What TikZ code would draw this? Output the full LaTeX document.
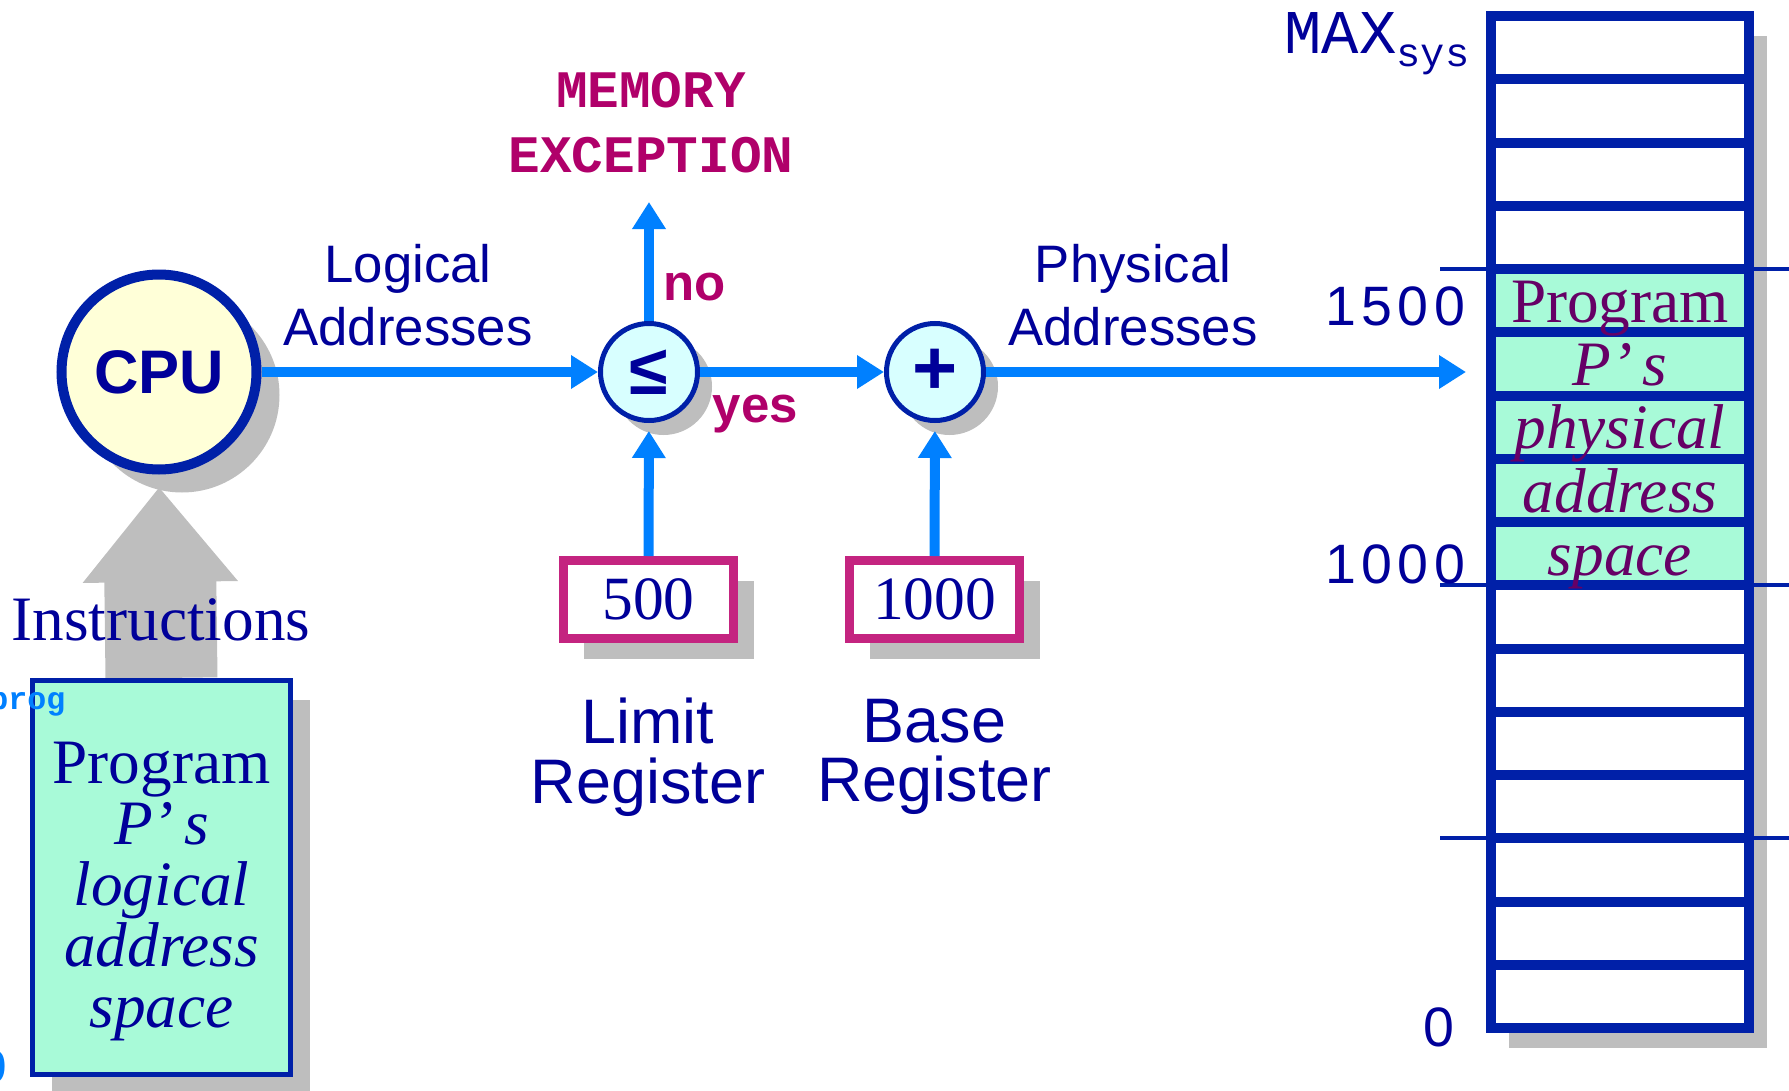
\documentclass[tikz,border=0pt]{standalone}
\usepackage{fontspec}
\setmainfont{Liberation Serif}
\setsansfont{Liberation Sans}
\setmonofont{Liberation Mono}
\usetikzlibrary{arrows.meta, positioning, shadows, backgrounds}

\definecolor{txtblue}{HTML}{000099}
\definecolor{lineblue}{HTML}{0020A8}
\definecolor{flowblue}{HTML}{0080FF}
\definecolor{alertred}{HTML}{B0006A}
\definecolor{regred}{HTML}{C42480}
\definecolor{mint}{HTML}{A8FAD8}
\definecolor{cpuyellow}{HTML}{FFFFD8}
\definecolor{opcyan}{HTML}{D8FFFF}
\definecolor{shadowgray}{HTML}{BEBEBE}
\definecolor{progpurple}{HTML}{660066}

\tikzset{
  flow/.style={flowblue, line width=0.1cm, -{Triangle[length=0.27cm,width=0.32cm]}},
  shadowed/.style={drop shadow={shadow xshift=#1, shadow yshift=-#1, fill=shadowgray, opacity=1}},
  opnode/.style={circle, draw=lineblue, line width=0.05cm, fill=opcyan, minimum size=0.97cm,
    inner sep=0pt, text=txtblue, shadowed=0.145cm},
  regbox/.style={draw=regred, line width=0.09cm, fill=white, minimum width=1.70cm,
    minimum height=0.78cm, inner sep=0pt, text=txtblue, font=\fontsize{17.5}{17.5}\selectfont,
    shadowed=0.2cm},
  lbl/.style={text=txtblue, font=\sffamily\fontsize{15}{17.9}\selectfont, align=center},
  reglbl/.style={text=txtblue, font=\sffamily\fontsize{17.9}{17}\selectfont, align=center},
  verdict/.style={text=alertred, font=\sffamily\bfseries\fontsize{14.5}{14.5}\selectfont, inner sep=0pt},
  addr/.style={text=txtblue, font=\sffamily\fontsize{15.8}{15.8}\selectfont\addfontfeature{LetterSpace=10},
    inner sep=0pt, anchor=east},
  word/.style={font=\fontsize{18}{18}\selectfont, inner sep=0pt, anchor=base},
}

\begin{document}
\begin{tikzpicture}
  \useasboundingbox (0,0) rectangle (17.89,10.90);

  % CPU und Pruefung
  \node[circle, draw=lineblue, line width=0.1cm, fill=cpuyellow, minimum size=1.95cm, inner sep=0pt,
    text=txtblue, font=\sffamily\bfseries\fontsize{17.5}{17.5}\selectfont, shadowed=0.23cm] (cpu) at (1.59,7.18) {CPU};
  \node[opnode, font=\sffamily\bfseries\fontsize{20}{20}\selectfont] (leq) at (6.49,7.18) {≤};
  \node[opnode, font=\sffamily\bfseries\fontsize{22}{22}\selectfont] (plus) at (9.35,7.18) {+};

  \node[regbox] (limit) at (6.485,4.905) {500};
  \node[regbox] (base) at (9.345,4.905) {1000};
  \node[reglbl] (limitlbl) at (6.48,3.33) {Limit\\Register};
  \node[reglbl] (baselbl) at (9.345,3.33) {Base\\Register};

  \node[lbl] (logical) at (4.08,7.95) {Logical\\Addresses};
  \node[lbl] (physical) at (11.33,7.95) {Physical\\Addresses};
  \node[verdict, anchor=base west] (no) at (6.63,7.90) {no};
  \node[verdict, anchor=base west] (yes) at (7.12,6.68) {yes};
  \node[text=alertred, font=\ttfamily\bfseries\fontsize{15}{18.5}\selectfont, align=center] (exc) at (6.51,9.675) {MEMORY\\EXCEPTION};
  \coordinate (exctip) at (6.49,8.88);
  \coordinate (memin) at (14.66,7.18);

  \draw[flow] (cpu) -- (leq);
  \draw[flow] (leq) -- (exctip);
  \draw[flow] (leq) -- (plus);
  \draw[flow, shorten >=0.08cm] (limit) -- (leq);
  \draw[flow, shorten >=0.08cm] (base) -- (plus);
  \draw[flow] (plus) -- (memin);

  % Programm (logisch)
  \node[draw=lineblue, line width=0.05cm, fill=mint, minimum width=2.58cm, minimum height=3.94cm,
    shadowed=0.195cm] (prog) at (1.615,2.125) {};
  \foreach \w/\f/\y [count=\k] in {Program/\upshape/3.07, P’\,s/\itshape/2.46, logical/\itshape/1.85,
      address/\itshape/1.24, space/\itshape/0.63}
    \node[word, text=txtblue] (lw\k) at (1.615,\y) {\f\w};
  \node[text=txtblue, font=\fontsize{18}{18}\selectfont] (instr) at (1.61,4.70) {Instructions};
  \node[text=flowblue, font=\ttfamily\bfseries\fontsize{9}{9}\selectfont, inner sep=0pt, anchor=east] (progtag) at (0.66,3.86) {prog};
  \node[text=flowblue, font=\sffamily\bfseries\fontsize{13}{13}\selectfont, inner sep=0pt, anchor=east] (zerotag) at (0.08,0.23) {0};

  \begin{scope}[on background layer]
    \draw[shadowgray, line width=1.12cm, -{Triangle[length=0.95cm,width=1.49cm]}, shorten >=0.125cm] (prog.north) -- (cpu.south);
  \end{scope}

  % Speicher (physisch)
  \fill[shadowgray] (15.09,0.42) rectangle (17.67,10.54);
  \fill[white] (14.91,0.62) rectangle (17.49,10.74);
  \fill[mint] (14.91,5.0475) rectangle (17.49,8.21);
  \foreach \k in {4,9,13}
    \draw[lineblue, line width=0.04cm] (14.40,{10.74-\k*0.6325}) -- (17.89,{10.74-\k*0.6325});
  \foreach \k in {1,...,15}
    \draw[lineblue, line width=0.1cm] (14.91,{10.74-\k*0.6325}) -- (17.49,{10.74-\k*0.6325});
  \draw[lineblue, line width=0.1cm] (14.91,0.62) rectangle (17.49,10.74);
  \foreach \w/\f [count=\k from 5] in {Program/\upshape, P’\,s/\itshape, physical/\itshape,
      address/\itshape, space/\itshape}
    \node[word, text=progpurple] (mw\k) at (16.20,{10.74-\k*0.6325+0.1}) {\f\w};

  \node[text=txtblue, font=\ttfamily\fontsize{17.7}{17.7}\selectfont, inner sep=0pt, anchor=base east] (max) at (14.70,10.36)
    {MAX\raisebox{-3.6pt}{\fontsize{11.5}{11.5}\selectfont sys}};
  \node[addr] (a1500) at (14.66,7.84) {1500};
  \node[addr] (a1000) at (14.66,5.26) {1000};
  \node[addr] (a0) at (14.55,0.63) {0};
\end{tikzpicture}
\end{document}
